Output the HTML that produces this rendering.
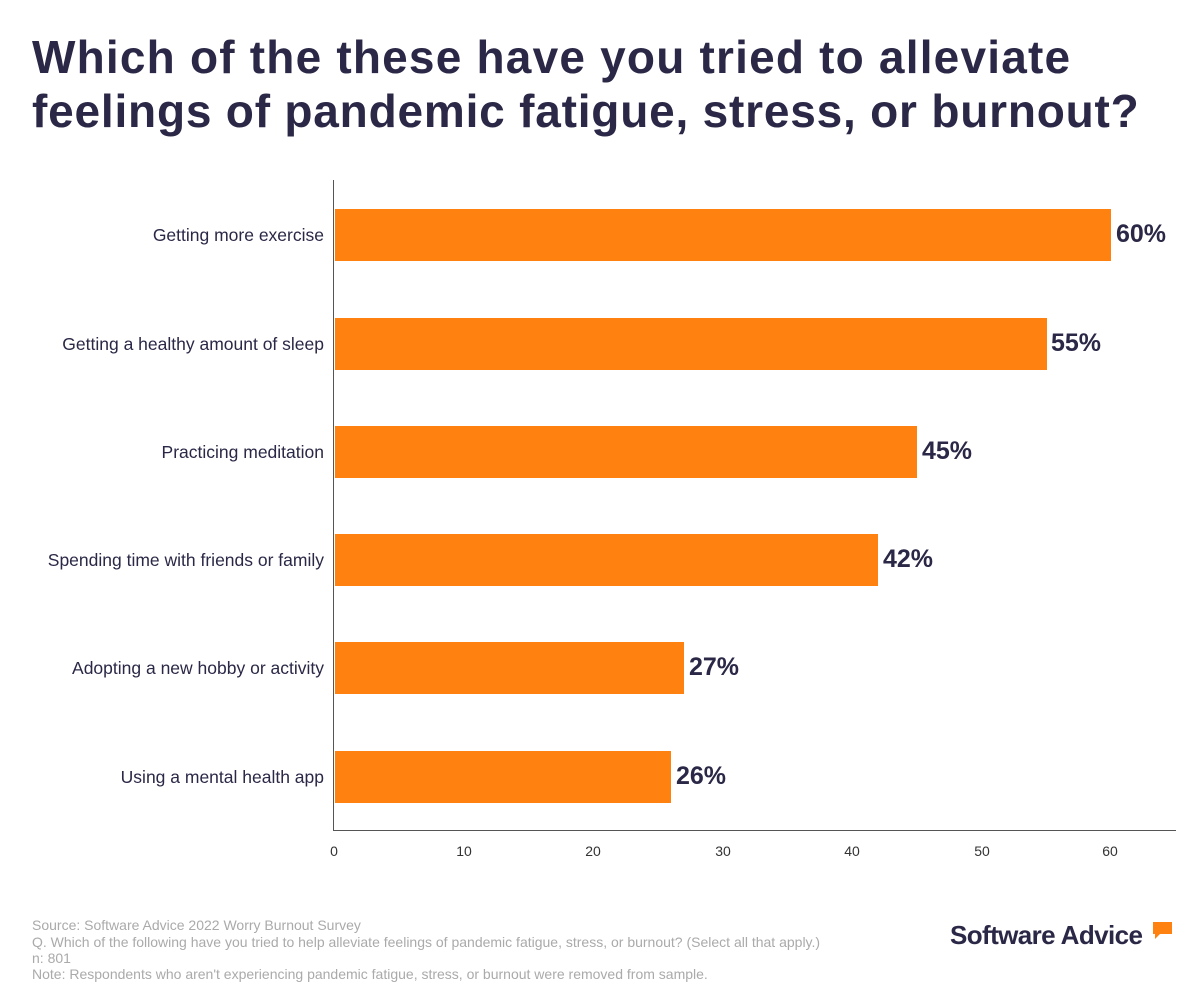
<!DOCTYPE html>
<html><head><meta charset="utf-8"><style>
body{margin:0;width:1200px;height:1000px;background:#fff;font-family:"Liberation Sans",sans-serif;position:relative;overflow:hidden}
.t{position:absolute;left:32px;top:30px;font-size:46px;font-weight:bold;color:#2a2846;line-height:54px;letter-spacing:1.2px;white-space:nowrap}
.lab{position:absolute;right:876px;font-size:17.5px;color:#2a2846;white-space:nowrap}
.bar{position:absolute;left:335px;height:52px;background:#ff8210}
.val{position:absolute;font-size:25px;font-weight:bold;color:#2a2846}
.tk{position:absolute;top:843px;font-size:14px;color:#333;width:40px;margin-left:-20px;text-align:center}
.f{position:absolute;left:32px;font-size:14px;color:#aaa;white-space:nowrap}
</style></head><body>
<div class="t">Which of the these have you tried to alleviate<br><span style="letter-spacing:0.8px">feelings of pandemic fatigue, stress, or burnout?</span></div>
<div style="position:absolute;left:333px;top:180px;width:1px;height:650px;background:#555"></div>
<div style="position:absolute;left:333px;top:830px;width:843px;height:1px;background:#555"></div>

<div class="lab" style="top:225px">Getting more exercise</div>
<div class="bar" style="top:209px;width:776px"></div><div class="val" style="top:220px;left:1116px">60%</div>
<div class="lab" style="top:334px">Getting a healthy amount of sleep</div>
<div class="bar" style="top:318px;width:712px"></div><div class="val" style="top:329px;left:1051px">55%</div>
<div class="lab" style="top:442px">Practicing meditation</div>
<div class="bar" style="top:426px;width:582px"></div><div class="val" style="top:437px;left:922px">45%</div>
<div class="lab" style="top:550px">Spending time with friends or family</div>
<div class="bar" style="top:534px;width:543px"></div><div class="val" style="top:545px;left:883px">42%</div>
<div class="lab" style="top:658px">Adopting a new hobby or activity</div>
<div class="bar" style="top:642px;width:349px"></div><div class="val" style="top:653px;left:689px">27%</div>
<div class="lab" style="top:767px">Using a mental health app</div>
<div class="bar" style="top:751px;width:336px"></div><div class="val" style="top:762px;left:676px">26%</div>

<div class="tk" style="left:334px">0</div><div class="tk" style="left:464px">10</div><div class="tk" style="left:593px">20</div><div class="tk" style="left:723px">30</div><div class="tk" style="left:852px">40</div><div class="tk" style="left:982px">50</div><div class="tk" style="left:1110px">60</div>

<div class="f" style="top:917px">Source: Software Advice 2022 Worry Burnout Survey</div>
<div class="f" style="top:934px">Q. Which of the following have you tried to help alleviate feelings of pandemic fatigue, stress, or burnout? (Select all that apply.)</div>
<div class="f" style="top:950px">n: 801</div>
<div class="f" style="top:966px">Note: Respondents who aren't experiencing pandemic fatigue, stress, or burnout were removed from sample.</div>

<div style="position:absolute;left:950px;top:920px;font-size:26px;font-weight:bold;color:#2a2846;letter-spacing:-0.6px">Software Advice</div>
<div style="position:absolute;left:1153px;top:922px;width:19px;height:12px;background:#ff8210"></div>
<div style="position:absolute;left:1155px;top:933px;width:0;height:0;border-left:6px solid #ff8210;border-bottom:6px solid transparent"></div>
</body></html>
